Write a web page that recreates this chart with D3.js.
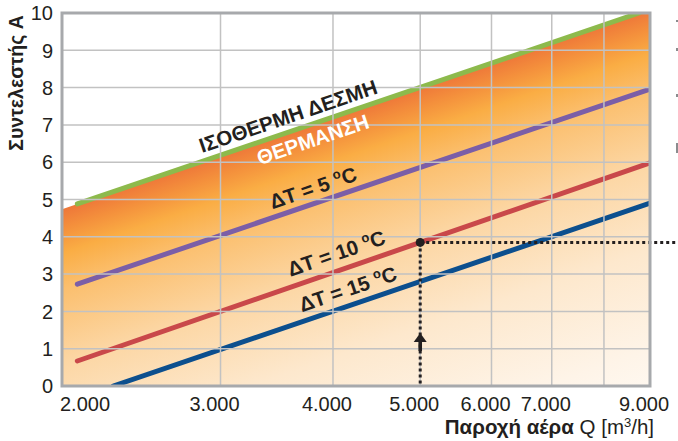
<!DOCTYPE html>
<html><head><meta charset="utf-8">
<script src="https://cdn.jsdelivr.net/npm/d3@7"></script>
<style>
html,body{margin:0;padding:0;background:#fff;}
svg{display:block;font-family:"Liberation Sans",Arial,Helvetica,sans-serif;}
</style></head>
<body><svg id="chart" width="678" height="441"></svg>
<script>
// ---- data ----
const xDomain = [2000, 9000];
const yDomain = [0, 10];
const xTickValues = [2000, 3000, 4000, 5000, 6000, 7000, 9000];
const xTickLabels = ["2.000", "3.000", "4.000", "5.000", "6.000", "7.000", "9.000"];
const xGridValues = [3000, 4000, 5000, 6000, 7000, 8000];
const yTickValues = [0, 1, 2, 3, 4, 5, 6, 7, 8, 9, 10];

const isoQ = [2080, 8750];   const isoA = [4.88, 10];     // ΙΣΟΘΕΡΜΗ ΔΕΣΜΗ
const heatQ = [2000, 8750, 9000]; const heatA = [4.74, 10, 10]; // heating zone top
const dt5Q = [2080, 9000];   const dt5A = [2.73, 7.96];
const dt10Q = [2080, 9000];  const dt10A = [0.67, 5.98];
const dt15Q = [2280, 9000];  const dt15A = [0, 4.9];
const exampleQ = 5000; const exampleA = 3.85;
const arrowA = 1.42;

const svg = d3.select("#chart");
const L = 62, R = 650, T = 13, B = 386;
const x = d3.scaleLog().domain(xDomain).range([L, R]);
const y = d3.scaleLinear().domain(yDomain).range([B, T]);

const defs = svg.append("defs");
defs.append("clipPath").attr("id", "plotclip").append("rect")
  .attr("x", L).attr("y", T).attr("width", R - L).attr("height", B - T);

// gradient perpendicular to the lines
const gx0 = x(isoQ[0]), gy0 = y(isoA[0]), gx1 = x(isoQ[1]), gy1 = y(isoA[1]);
const ang = Math.atan2(gy1 - gy0, gx1 - gx0);
const px0 = x(2000), py0 = gy0 + (gy1 - gy0) * (px0 - gx0) / (gx1 - gx0);
const dist = 380;
const grad = defs.append("linearGradient").attr("id", "heatgrad")
  .attr("gradientUnits", "userSpaceOnUse")
  .attr("x1", px0).attr("y1", py0)
  .attr("x2", px0 - Math.sin(ang) * dist).attr("y2", py0 + Math.cos(ang) * dist);
[[0, "#ee7739"], [0.05, "#f4903c"], [0.11, "#faad44"], [0.2, "#fbbf6e"],
 [0.38, "#fcd6a3"], [0.6, "#fde8cd"], [0.85, "#fef4e8"], [1, "#fffaf4"]]
  .forEach(([o, c]) => grad.append("stop").attr("offset", o).attr("stop-color", c));

const plot = svg.append("g").attr("clip-path", "url(#plotclip)");

// heating area
const area = d3.area().x((d, i) => x(heatQ[i])).y0(y(0)).y1((d, i) => y(heatA[i]));
plot.append("path").datum(heatQ).attr("d", area).attr("fill", "url(#heatgrad)");

// gridlines
const gridColor = "#c2c2c2";
svg.append("g").selectAll("line.h").data(yTickValues.slice(1, -1)).join("line")
  .attr("x1", L).attr("x2", R).attr("y1", d => y(d)).attr("y2", d => y(d))
  .attr("stroke", gridColor).attr("stroke-width", 1.5);
svg.append("g").selectAll("line.v").data(xGridValues).join("line")
  .attr("x1", d => x(d)).attr("x2", d => x(d)).attr("y1", T).attr("y2", B)
  .attr("stroke", gridColor).attr("stroke-width", 1.5);

// series lines
const series = [
  {q: isoQ, a: isoA, color: "#8dba4c"},
  {q: dt5Q, a: dt5A, color: "#7b5ea7"},
  {q: dt10Q, a: dt10A, color: "#c9484a"},
  {q: dt15Q, a: dt15A, color: "#0c4f8e"}
];
const lineGen = d3.line().x(d => x(d[0])).y(d => y(d[1]));
plot.selectAll("path.series").data(series).join("path")
  .attr("class", "series")
  .attr("d", s => lineGen(s.q.map((q, i) => [q, s.a[i]])))
  .attr("fill", "none").attr("stroke", s => s.color)
  .attr("stroke-width", 5).attr("stroke-linecap", "round");

// example reading (dotted guides)
const ex = x(exampleQ), ey = y(exampleA);
svg.append("line").attr("x1", ex).attr("x2", ex).attr("y1", ey).attr("y2", B)
  .attr("stroke", "#231f20").attr("stroke-width", 3).attr("stroke-dasharray", "3,3");
svg.append("line").attr("x1", ex).attr("x2", 678).attr("y1", ey).attr("y2", ey)
  .attr("stroke", "#231f20").attr("stroke-width", 3).attr("stroke-dasharray", "3,3");
svg.append("circle").attr("cx", ex).attr("cy", ey).attr("r", 4.5).attr("fill", "#231f20");
// arrow
const at = y(arrowA);
svg.append("rect").attr("x", ex - 1.8).attr("y", at + 6).attr("width", 3.6).attr("height", 12).attr("fill", "#231f20");
svg.append("path").attr("d", `M${ex},${at} L${ex + 6.5},${at + 9} L${ex - 6.5},${at + 9} Z`).attr("fill", "#231f20");

// frame
svg.append("rect").attr("x", L).attr("y", T).attr("width", R - L).attr("height", B - T)
  .attr("fill", "none").attr("stroke", "#a7a9ac").attr("stroke-width", 3);

// small cut-off marks at right page edge (from the source page)
[[676, 20, 3, 2], [676, 48, 3, 3], [676, 94, 3, 3], [676, 143, 2, 10]].forEach(([mx, my, mw, mh]) =>
  svg.append("rect").attr("x", mx).attr("y", my).attr("width", mw).attr("height", mh).attr("fill", "#8a8c8e"));

// axes labels
const txtColor = "#231f20";
svg.append("g").selectAll("text").data(yTickValues).join("text")
  .attr("x", 53).attr("y", d => y(d)).attr("dy", "0.36em")
  .attr("text-anchor", "end").attr("font-size", 20).attr("fill", txtColor)
  .text(d => d);
svg.append("g").selectAll("text").data(xTickValues).join("text")
  .attr("x", (d, i) => x(d) + (i === 0 ? 23 : -6)).attr("y", 411)
  .attr("text-anchor", "middle").attr("font-size", 20).attr("fill", txtColor)
  .text((d, i) => xTickLabels[i]);

const xt = svg.append("text").attr("x", 654).attr("y", 434).attr("text-anchor", "end")
  .attr("font-size", 20.5).attr("fill", txtColor);
xt.append("tspan").attr("font-weight", "bold").text("Παροχή αέρα ");
xt.append("tspan").text("Q [m");
xt.append("tspan").attr("font-size", 13).attr("dy", -7).text("3");
xt.append("tspan").attr("dy", 7).text("/h]");

svg.append("text").attr("transform", "translate(23,83) rotate(-90)")
  .attr("text-anchor", "middle").attr("font-size", 19.5).attr("font-weight", "bold")
  .attr("fill", txtColor).text("Συντελεστής A");

// in-chart labels along lines
function labelAt(q, a, px, dy, color, parts) {
  const lq = x.invert(px);
  const t = (Math.log(lq) - Math.log(q[0])) / (Math.log(q[q.length - 1]) - Math.log(q[0]));
  const la = a[0] + t * (a[a.length - 1] - a[0]);
  const angle = Math.atan2(y(a[a.length - 1]) - y(a[0]), x(q[q.length - 1]) - x(q[0])) * 180 / Math.PI;
  const g = svg.append("text")
    .attr("transform", `translate(${x(lq)},${y(la)}) rotate(${angle})`)
    .attr("y", dy).attr("text-anchor", "middle").attr("font-size", 20.5)
    .attr("font-weight", "bold").attr("fill", color);
  parts.forEach(p => {
    const ts = g.append("tspan").text(p.t);
    if (p.sup) ts.attr("font-size", 13).attr("dy", -8);
    if (p.down) ts.attr("dy", 8);
  });
}
labelAt(isoQ, isoA, 293, -8, "#231f20", [{t: "ΙΣΟΘΕΡΜΗ ΔΕΣΜΗ"}]);
labelAt(isoQ, isoA, 308, 22, "#ffffff", [{t: "ΘΕΡΜΑΝΣΗ"}]);
labelAt(dt5Q, dt5A, 318, -8, "#231f20", [{t: "ΔT = 5 "}, {t: "o", sup: true}, {t: "C", down: true}]);
labelAt(dt10Q, dt10A, 342, -10, "#231f20", [{t: "ΔT = 10 "}, {t: "o", sup: true}, {t: "C", down: true}]);
labelAt(dt15Q, dt15A, 353, -9, "#231f20", [{t: "ΔT = 15 "}, {t: "o", sup: true}, {t: "C", down: true}]);
</script></body></html>
